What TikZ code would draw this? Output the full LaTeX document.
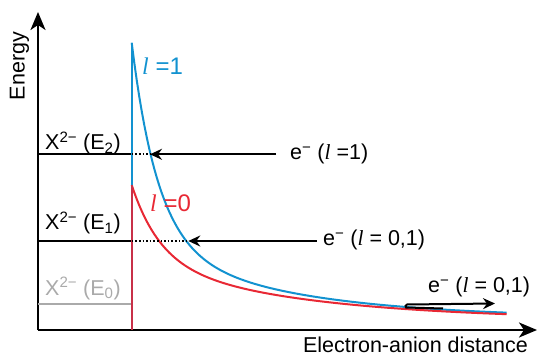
\documentclass[tikz,border=0pt]{standalone}
\usepackage{fontspec}
\setmainfont{Liberation Sans}
\newfontfamily\ellfont{Liberation Serif}
\usepackage{xcolor}
\usepackage{tikz}
\usetikzlibrary{arrows.meta,positioning,calc}
\definecolor{lvblue}{RGB}{18,146,208}
\definecolor{lvred}{RGB}{232,40,52}
\definecolor{lvcrimson}{RGB}{200,48,72}
\definecolor{lvgrey}{RGB}{170,170,170}
\newcommand{\ellsym}{{\ellfont\itshape l}}

\begin{document}
\begin{tikzpicture}[
  x=1pt, y=-1pt,
  font=\fontsize{21.5}{25}\selectfont,
  axis/.style={line width=2.4pt, -{Stealth[length=18pt,width=15pt,inset=5pt]}},
  level/.style={line width=2pt},
  arr/.style={line width=2pt, -{Stealth[length=12pt,width=11pt,inset=4pt]}},
  dots/.style={line width=1.6pt, dotted},
  curve/.style={line width=2pt, samples=150},
  lab/.style={inner sep=0pt},
  big/.style={inner sep=0pt, font=\fontsize{24}{28}\selectfont}
]
\useasboundingbox (0,0) rectangle (549,358);
% axes
\coordinate (O) at (38,330);
\coordinate (ytip) at (38,12);
\coordinate (xtip) at (537,330);
\draw[axis] (O) -- (ytip);
\draw[axis] (O) -- (xtip);
\node[lab, rotate=90] (ylab) at (19.5,66) {Energy};
\node[lab, anchor=north east] (xlab) at (528,337) {Electron-anion distance};
% levels
\coordinate (wall2) at (131.7,154.3);
\coordinate (wall1) at (131.7,241);
\coordinate (wall0) at (131.7,304.3);
\draw[level] (38,154.3) -- (wall2);
\draw[level] (38,241) -- (wall1);
\draw[level, lvgrey] (38,304.3) -- (wall0);
\node[lab, anchor=base west] (xtwo) at (45,150) {X\textsuperscript{2−} (E\textsubscript{2})};
\node[lab, anchor=base west] (xone) at (45,230) {X\textsuperscript{2−} (E\textsubscript{1})};
\node[lab, anchor=base west, text=lvgrey] (xzero) at (45,295) {X\textsuperscript{2−} (E\textsubscript{0})};
% potential curves
\draw[curve, lvblue] plot[domain=131.7:506.7] (\x, {318-78*exp(-(\x-131.7)/140)-197.3*exp(-(\x-131.7)/26)});
\draw[curve, lvred] plot[domain=131.7:506.7] (\x, {320-60.6*exp(-(\x-131.7)/160)-74.4*exp(-(\x-131.7)/28)});
\draw[line width=2pt, lvblue] (131.7,42.7) -- (131.7,186);
\draw[line width=2pt, lvcrimson] (131.7,185) -- (O -| wall0);
\node[big, text=lvblue, anchor=west] (lone) at (142,66) {\ellsym\ =1};
\node[big, text=lvred, anchor=west] (lzero) at (150,203) {\ellsym\ =0};
% incoming electrons
\coordinate (tip2) at (150,154.3);
\coordinate (tip1) at (188.3,241);
\coordinate (start2) at (276,154.3);
\coordinate (start1) at (316.7,241);
\draw[dots] (wall2) -- (tip2);
\draw[dots] (wall1) -- (tip1);
\draw[arr] (start2) -- (tip2);
\draw[arr] (start1) -- (tip1);
\node[lab, anchor=west] (etwo) at (290,154.3) {e\textsuperscript{−} (\ellsym\ =1)};
\node[lab, anchor=west] (eone) at (323,240) {e\textsuperscript{−} (\ellsym\ = 0,1)};
% outgoing electron
\coordinate (out0) at (443,308.5);
\coordinate (outtip) at (495,303.5);
\draw[arr] (out0) -- (406,307.5) to[out=180,in=180] (407,304.5) -- (outtip);
\node[lab, anchor=west] (ezero) at (428,287) {e\textsuperscript{−} (\ellsym\ = 0,1)};
\end{tikzpicture}
\end{document}
